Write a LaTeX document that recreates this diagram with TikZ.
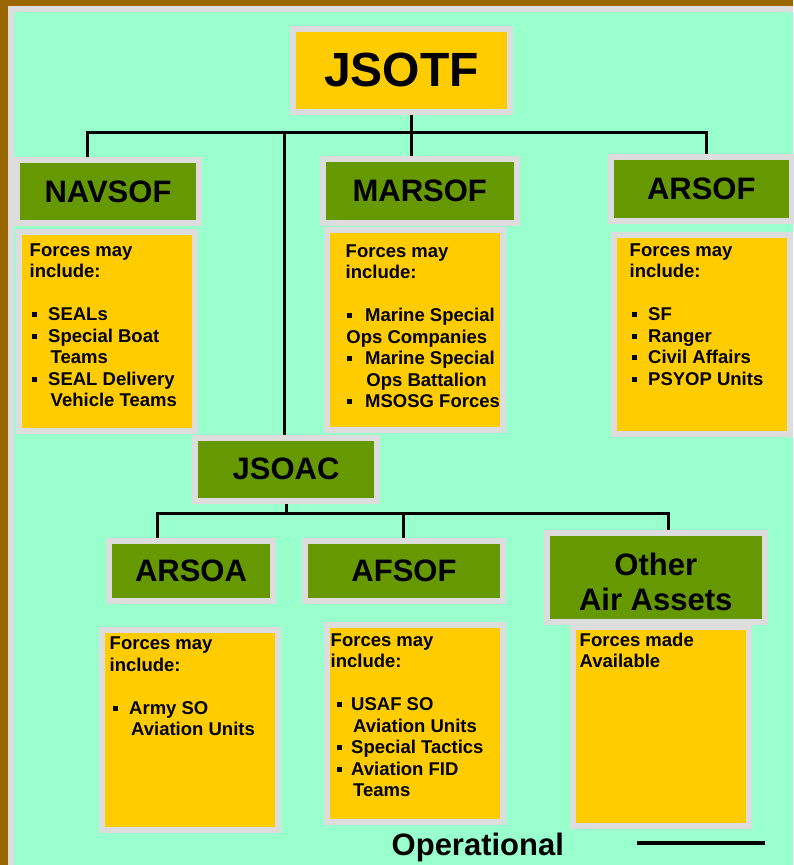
\documentclass[tikz,border=0pt]{standalone}
\usepackage{fontspec}
\setmainfont{Liberation Sans}
\definecolor{mint}{HTML}{99FFCC}
\definecolor{frame}{HTML}{996600}
\definecolor{lgray}{HTML}{DDDDDD}
\definecolor{gold}{HTML}{FFCC00}
\definecolor{ogreen}{HTML}{669900}
\newcommand\bl[2]{\hspace*{#1}\makebox[#2][l]{\rule[3.3pt]{5pt}{5pt}}}
\begin{document}
\begin{tikzpicture}[x=1pt,y=-1pt,
  box/.style={draw=lgray, line width=6pt, inner sep=0pt},
  tbox/.style={box, fill=ogreen, font=\fontsize{31}{36}\selectfont\bfseries},
  cbox/.style={box, fill=gold},
  ctext/.style={anchor=north west, inner sep=0pt, align=left, font=\fontsize{18.5}{21.5}\selectfont\bfseries},
  link/.style={line width=3pt}]
\useasboundingbox (0,0) rectangle (793,865);
\fill[mint] (0,0) rectangle (793,865);
\fill[frame] (0,0) rectangle (7.5,865);
\fill[frame] (0,0) rectangle (793,5.5);
\fill[lgray] (7.5,5.5) rectangle (14,865);
\fill[lgray] (7.5,5.5) rectangle (793,12);

% coordinates for connector geometry
\coordinate (bar1) at (0,132);
\coordinate (bar2) at (0,513);
\coordinate (xa) at (87,0);
\coordinate (xb) at (284,0);
\coordinate (xc) at (411,0);
\coordinate (xd) at (706,0);
\coordinate (xe) at (157,0);
\coordinate (xg) at (403,0);
\coordinate (xh) at (668,0);

% top level
\node[cbox, minimum width=217pt, minimum height=82.5pt, font=\fontsize{48}{52}\selectfont\bfseries] (jsotf) at (401.5,70.25) {JSOTF};

\node[tbox, minimum width=182pt, minimum height=63pt] (navsof) at (108,191.5) {NAVSOF};
\node[tbox, minimum width=193.5pt, minimum height=64pt] (marsof) at (419.75,191) {MARSOF};
\node[tbox, minimum width=180.5pt, minimum height=63.5pt] (arsof) at (701.25,188.75) {ARSOF};

\node[cbox, minimum width=176.5pt, minimum height=199pt] (navc) at (106.75,331) {};
\node[cbox, minimum width=176.5pt, minimum height=200pt] (marc) at (414.75,330) {};
\node[cbox, minimum width=176pt, minimum height=199.5pt] (arc) at (702,334.25) {};

\node[ctext] (navt) at (29.5,240.95) {\strut Forces may\\include:\\[21.5pt]
\bl{2.5pt}{16pt}SEALs\\
\bl{2.5pt}{16pt}Special Boat\\
\hspace*{21pt}Teams\\
\bl{2.5pt}{16pt}SEAL Delivery\\
\hspace*{21pt}Vehicle Teams};

\node[ctext] (mart) at (345.5,241.95) {\strut Forces may\\include:\\[21.5pt]
\bl{1.5pt}{18pt}Marine Special\\
\hspace*{0.7pt}Ops Companies\\
\bl{1.5pt}{18pt}Marine Special\\
\hspace*{20.7pt}Ops Battalion\\
\bl{1.5pt}{18pt}MSOSG Forces};

\node[ctext] (art) at (629.5,240.95) {\strut Forces may\\include:\\[21.5pt]
\bl{2.5pt}{16pt}SF\\
\bl{2.5pt}{16pt}Ranger\\
\bl{2.5pt}{16pt}Civil Affairs\\
\bl{2.5pt}{16pt}PSYOP Units};

% JSOAC level
\node[tbox, minimum width=182pt, minimum height=63pt] (jsoac) at (286,469) {JSOAC};
\node[tbox, minimum width=164pt, minimum height=60.5pt] (arsoa) at (191,570.75) {ARSOA};
\node[tbox, minimum width=198pt, minimum height=60.5pt] (afsof) at (404,570.75) {AFSOF};
\node[tbox, minimum width=217.5pt, minimum height=89pt] (other) at (655.75,577.5) {};
\node[font=\fontsize{31}{35}\selectfont\bfseries, align=center, inner sep=0pt] (otherl) at (655.75,582) {Other\\Air Assets};

\node[cbox, minimum width=176pt, minimum height=200pt] (arsoac) at (190,730) {};
\node[cbox, minimum width=176pt, minimum height=197.5pt] (afsofc) at (415,723.25) {};
\node[cbox, minimum width=176pt, minimum height=198.5pt] (otherc) at (661,726.25) {};

\node[ctext] (arsoat) at (109.5,634.45) {\strut Forces may\\include:\\[21.5pt]
\bl{3.5pt}{16pt}Army SO\\
\hspace*{21.5pt}Aviation Units};

\node[ctext] (afsoft) at (330.5,630.95) {\strut Forces may\\include:\\[21.5pt]
\bl{6.5pt}{14pt}USAF SO\\
\hspace*{22.5pt}Aviation Units\\
\bl{6.5pt}{14pt}Special Tactics\\
\bl{6.5pt}{14pt}Aviation FID\\
\hspace*{22.5pt}Teams};

\node[ctext] (othert) at (579.5,630.95) {\strut Forces made\\Available};

% connectors
\draw[link] (navsof.north -| xa) -- (bar1 -| xa) -- (bar1 -| xd) -- (arsof.north -| xd);
\draw[link] (jsotf.south -| xc) -- (marsof.north -| xc);
\draw[link] (bar1 -| xb) -- (jsoac.north -| xb);
\draw[link] (jsoac.south) -- (bar2 -| jsoac.south);
\draw[link] (arsoa.north -| xe) -- (bar2 -| xe) -- (bar2 -| xh) -- (other.north -| xh);
\draw[link] (bar2 -| xg) -- (afsof.north -| xg);

% legend
\node[anchor=base west, inner sep=0pt, font=\fontsize{31}{36}\selectfont\bfseries] (oper) at (391.5,855) {Operational};
\coordinate (l1) at (637,843);
\coordinate (l2) at (765,843);
\draw[line width=4.5pt] (l1) -- (l2);
\end{tikzpicture}
\end{document}
